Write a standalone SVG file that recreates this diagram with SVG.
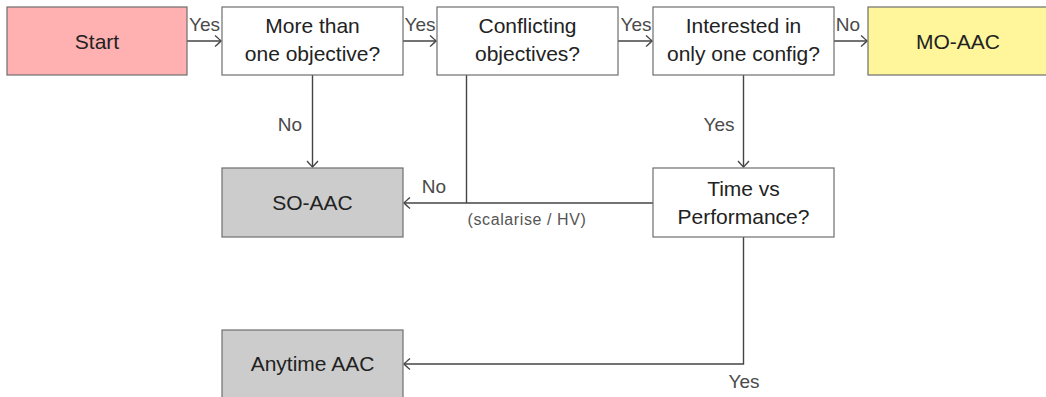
<svg xmlns="http://www.w3.org/2000/svg" width="1046" height="397" viewBox="0 0 1046 397">
<style>
.box{stroke:#6e6e6e;stroke-width:1.2;fill:#fff}
.t{font-family:"Liberation Sans",Arial,sans-serif;font-size:21px;fill:#222;text-anchor:middle}
.l{font-family:"Liberation Sans",Arial,sans-serif;font-size:19px;fill:#4a4a4a;text-anchor:middle}
.s{font-family:"Liberation Sans",Arial,sans-serif;font-size:16px;fill:#555;text-anchor:middle;letter-spacing:0.6px}
.c{stroke:#444;stroke-width:1.4;fill:none}
</style>
<defs>
<marker id="arr" markerUnits="userSpaceOnUse" markerWidth="14" markerHeight="14" viewBox="-8 -7 10 14" refX="0" refY="0" orient="auto">
<path d="M -6 -5.5 Q -1.5 -1.5 0 0 Q -1.5 1.5 -6 5.5" fill="none" stroke="#444" stroke-width="1.3"/>
</marker>
</defs>
<g id="connectors">
<line class="c" x1="187" y1="41" x2="221" y2="41" marker-end="url(#arr)"/>
<line class="c" x1="403" y1="41" x2="436" y2="41" marker-end="url(#arr)"/>
<line class="c" x1="618" y1="41" x2="652" y2="41" marker-end="url(#arr)"/>
<line class="c" x1="834" y1="41" x2="867" y2="41" marker-end="url(#arr)"/>
<line class="c" x1="312.5" y1="75" x2="312.5" y2="167" marker-end="url(#arr)"/>
<polyline class="c" points="466.5,75 466.5,203"/>
<line class="c" x1="653" y1="203" x2="404" y2="203" marker-end="url(#arr)"/>
<line class="c" x1="743.5" y1="75" x2="743.5" y2="167" marker-end="url(#arr)"/>
<polyline class="c" points="743.5,237 743.5,364 404,364" marker-end="url(#arr)"/>
<text class="l" x="204.5" y="31">Yes</text>
<text class="l" x="420" y="31">Yes</text>
<text class="l" x="636" y="31">Yes</text>
<text class="l" x="848" y="31">No</text>
<text class="l" x="290" y="131">No</text>
<text class="l" x="434" y="193">No</text>
<text class="s" x="527" y="225">(scalarise / HV)</text>
<text class="l" x="719" y="131">Yes</text>
<text class="l" x="744" y="388">Yes</text>
</g>
<g id="start">
<rect class="box" x="7" y="7" width="180" height="68" style="fill:#ffb0b0"/>
<text class="t" x="97" y="49">Start</text>
</g>
<g id="more">
<rect class="box" x="222" y="7" width="181" height="68"/>
<text class="t" x="312.5" y="33">More than</text>
<text class="t" x="312.5" y="61">one objective?</text>
</g>
<g id="conflicting">
<rect class="box" x="437" y="7" width="181" height="68"/>
<text class="t" x="527.5" y="33">Conflicting</text>
<text class="t" x="527.5" y="61">objectives?</text>
</g>
<g id="interested">
<rect class="box" x="653" y="7" width="181" height="68"/>
<text class="t" x="743.5" y="33">Interested in</text>
<text class="t" x="743.5" y="61">only one config?</text>
</g>
<g id="moaac">
<rect class="box" x="868" y="7" width="181" height="68" style="fill:#fff59a"/>
<text class="t" x="958" y="49">MO-AAC</text>
</g>
<g id="soaac">
<rect class="box" x="222" y="168" width="181" height="69" style="fill:#cccccc"/>
<text class="t" x="312.5" y="210">SO-AAC</text>
</g>
<g id="timevsperf">
<rect class="box" x="653" y="168" width="181" height="69"/>
<text class="t" x="743.5" y="196">Time vs</text>
<text class="t" x="743.5" y="224">Performance?</text>
</g>
<g id="anytime">
<rect class="box" x="222" y="330" width="181" height="69" style="fill:#cccccc"/>
<text class="t" x="312.5" y="371">Anytime AAC</text>
</g>
</svg>
